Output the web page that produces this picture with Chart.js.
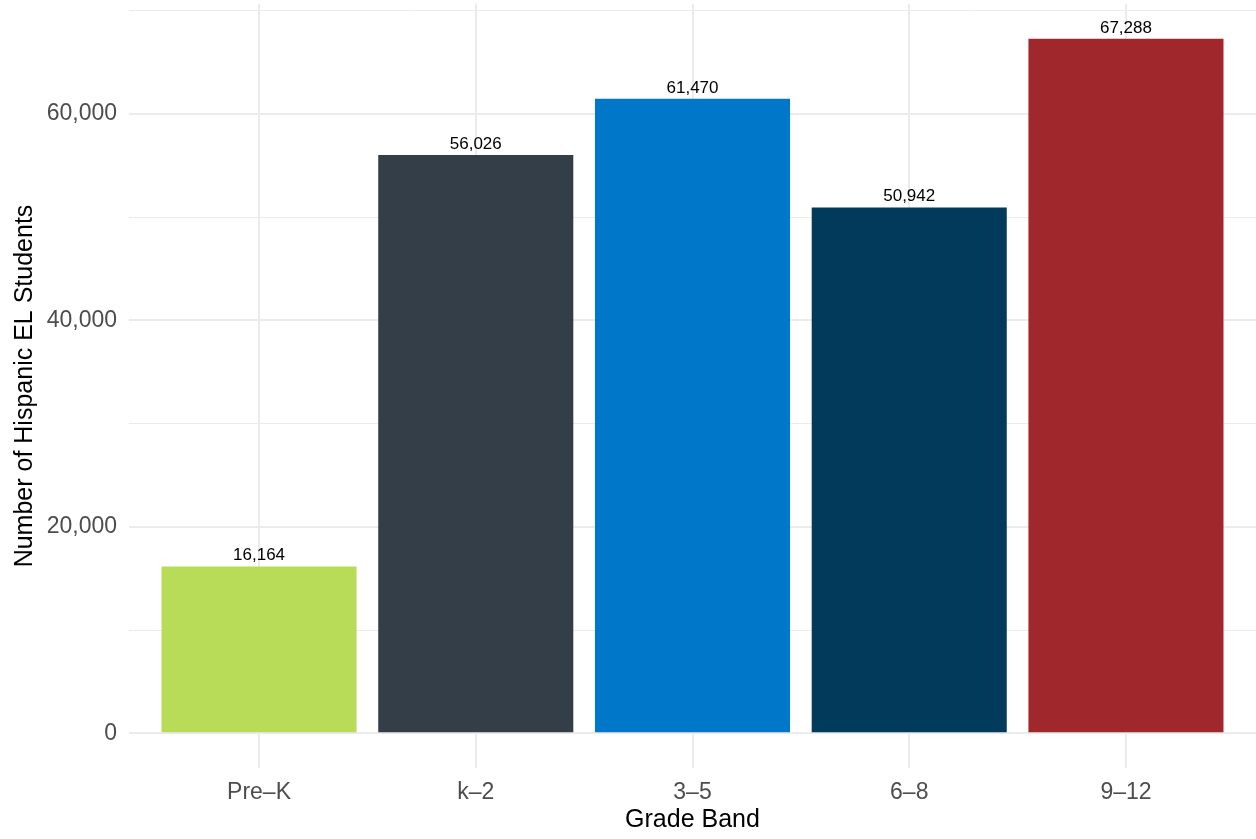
<!DOCTYPE html>
<html>
<head>
<meta charset="utf-8">
<script src="https://cdn.jsdelivr.net/npm/chart.js@4.4.1/dist/chart.umd.min.js"></script>
<style>
html,body{margin:0;padding:0;background:#fff;}
#wrap{width:1256px;height:839px;}
</style>
</head>
<body>
<div id="wrap"><canvas id="c" width="1256" height="839"></canvas></div>
<script>
const categories = ["Pre–K", "k–2", "3–5", "6–8", "9–12"];
const values = [16164, 56026, 61470, 50942, 67288];
const barColors = ["#b8dc57", "#333e48", "#0077c8", "#023a5c", "#a0282d"];
const yTicks = [0, 10000, 20000, 30000, 40000, 50000, 60000, 70000];
const xTitle = "Grade Band";
const yTitle = "Number of Hispanic EL Students";

const FONT = "'Liberation Sans', Arial, Helvetica, sans-serif";
const fmt = v => v.toLocaleString('en-US');
const yMax = Math.max(...values) * 1.05;
const yMin = -Math.max(...values) * 0.05;

const labelPlugin = {
  id: 'barLabels',
  afterDatasetsDraw(chart) {
    const ctx = chart.ctx;
    const meta = chart.getDatasetMeta(0);
    ctx.save();
    ctx.font = "17px " + FONT;
    ctx.fillStyle = "#000";
    ctx.textAlign = "center";
    ctx.textBaseline = "alphabetic";
    meta.data.forEach((bar, i) => {
      ctx.fillText(fmt(values[i]), bar.x, bar.y - 6);
    });
    ctx.restore();
  }
};

new Chart(document.getElementById('c'), {
  type: 'bar',
  data: {
    datasets: [{
      data: values.map((v, i) => ({x: i, y: v})),
      backgroundColor: barColors,
      borderWidth: 0,
      barPercentage: 0.9,
      categoryPercentage: 1.0
    }]
  },
  options: {
    responsive: false,
    animation: false,
    devicePixelRatio: 1,
    layout: {padding: {top: 4, right: 0, left: 0, bottom: 0}},
    plugins: {legend: {display: false}, tooltip: {enabled: false}},
    scales: {
      x: {
        type: 'linear',
        offset: false,
        min: -0.6,
        max: categories.length - 1 + 0.6,
        afterBuildTicks: s => { s.ticks = categories.map((c, i) => ({value: i})); },
        afterFit: s => { s.height = 71; s.paddingLeft = 0; s.paddingRight = 0; },
        ticks: {
          callback: v => categories[v],
          font: {family: FONT, size: 23},
          color: "#4d4d4d",
          padding: 11,
          maxRotation: 0,
          autoSkip: false
        },
        grid: {color: "#ebebeb", lineWidth: 2, drawTicks: false, offset: false},
        border: {display: false},
        title: {display: true, text: xTitle, color: "#000", font: {family: FONT, size: 25}, padding: {top: 0, bottom: 4}}
      },
      y: {
        min: yMin,
        max: yMax,
        afterBuildTicks: s => { s.ticks = yTicks.map(v => ({value: v})); },
        afterFit: s => { s.width = 129; s.paddingTop = 0; s.paddingBottom = 0; },
        ticks: {
          callback: v => (v % 20000 === 0 ? fmt(v) : ''),
          font: {family: FONT, size: 23},
          color: "#4d4d4d",
          padding: 12
        },
        grid: {
          color: "#ebebeb",
          lineWidth: ctx => (ctx.tick && ctx.tick.value % 20000 === 0 ? 2 : 1),
          drawTicks: false
        },
        border: {display: false},
        title: {display: true, text: yTitle, color: "#000", font: {family: FONT, size: 25}, padding: {top: 10, bottom: 0}}
      }
    }
  },
  plugins: [labelPlugin]
});
</script>
</body>
</html>
